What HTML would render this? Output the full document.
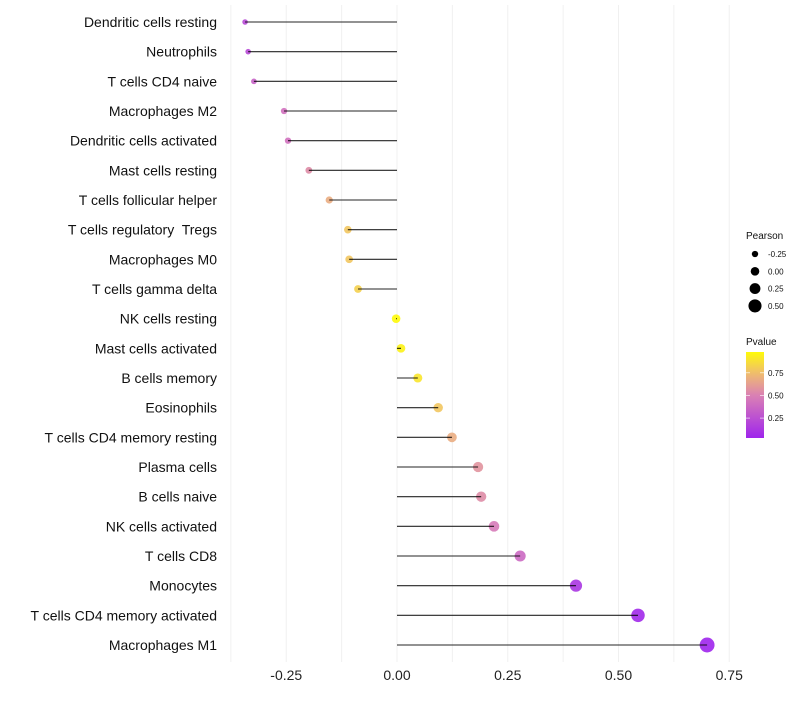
<!DOCTYPE html>
<html><head><meta charset="utf-8"><style>
body{margin:0;background:#fff;font-family:"Liberation Sans",sans-serif;}
svg text{font-family:"Liberation Sans",sans-serif;white-space:pre;}
</style></head><body>
<svg id="chart" width="800" height="700"></svg>
<script>
const categories=["Dendritic cells resting","Neutrophils","T cells CD4 naive","Macrophages M2","Dendritic cells activated","Mast cells resting","T cells follicular helper","T cells regulatory  Tregs","Macrophages M0","T cells gamma delta","NK cells resting","Mast cells activated","B cells memory","Eosinophils","T cells CD4 memory resting","Plasma cells","B cells naive","NK cells activated","T cells CD8","Monocytes","T cells CD4 memory activated","Macrophages M1"];
const pearson=[-0.343,-0.336,-0.323,-0.255,-0.246,-0.199,-0.153,-0.111,-0.108,-0.088,-0.002,0.009,0.047,0.093,0.124,0.183,0.19,0.219,0.278,0.404,0.544,0.70];
const pvalue=[0.22,0.22,0.35,0.42,0.42,0.55,0.68,0.78,0.78,0.82,0.98,0.95,0.90,0.78,0.68,0.58,0.55,0.47,0.38,0.12,0.05,0.03];
const xTicks=[-0.25,0,0.25,0.5,0.75];
const xTickLabels=["-0.25","0.00","0.25","0.50","0.75"];
const sizeLegend=[-0.25,0,0.25,0.5];
const sizeLegendLabels=["-0.25","0.00","0.25","0.50"];
const colorLegend=[0.25,0.5,0.75];
const colorLegendLabels=["0.25","0.50","0.75"];

const NS="http://www.w3.org/2000/svg";
const svg=document.getElementById('chart');
function mk(t,a,p){const e=document.createElementNS(NS,t);for(const k in a)e.setAttribute(k,a[k]);(p||svg).appendChild(e);return e;}
const X=v=>397+v*443;
const Y=i=>22+i*(623/21);
const R=v=>4.3+v*4.5;
const stops=[[0,[155,31,240]],[0.5,[218,128,180]],[0.75,[240,190,110]],[1,[255,255,0]]];
function col(p){for(let i=1;i<stops.length;i++){if(p<=stops[i][0]){const a=stops[i-1],b=stops[i],t=(p-a[0])/(b[0]-a[0]);const c=a[1].map((v,k)=>Math.round(v+(b[1][k]-v)*t));return `rgb(${c})`;}}return 'rgb(255,255,0)';}

const g=mk('g',{});


for(let v=-0.375;v<=0.8;v+=0.125){mk('line',{x1:X(v),x2:X(v),y1:5,y2:662,stroke:'#f0f0f0','stroke-width':1},g);}
xTicks.forEach((v,i)=>{const t=mk('text',{x:X(v),y:680,'text-anchor':'middle','font-size':14,fill:'#222'});t.textContent=xTickLabels[i];

});
categories.forEach((c,i)=>{
 const l=mk('text',{x:217,y:Y(i)+5,'text-anchor':'end','font-size':14,fill:'#111'});l.textContent=c;
 
 
 const d=mk('circle',{cx:X(pearson[i]),cy:Y(i),r:Math.max(1.5,R(pearson[i])),fill:col(pvalue[i]),opacity:0.9});
 
 
 const s=mk('line',{x1:X(0),x2:X(pearson[i]),y1:Y(i),y2:Y(i),stroke:'#000','stroke-width':1.1,opacity:0.85});
 
 
});
const lt=mk('text',{x:746,y:239,'font-size':10,fill:'#111'});lt.textContent='Pearson';


sizeLegend.forEach((v,i)=>{const cy=254+i*17.3;
 const c=mk('circle',{cx:755,cy:cy,r:R(v),fill:'#000'});
 
 
 const t=mk('text',{x:768,y:cy+3,'font-size':8,fill:'#111'});t.textContent=sizeLegendLabels[i];
 
 });
const ct=mk('text',{x:746,y:345,'font-size':10,fill:'#111'});ct.textContent='Pvalue';


const defs=mk('defs',{});const gr=mk('linearGradient',{id:'pg',x1:0,y1:1,x2:0,y2:0},defs);
for(let k=0;k<=10;k++){const p=0.03+k*0.095;mk('stop',{offset:k/10,'stop-color':col(p)},gr);}
const bar=mk('rect',{x:746,y:352,width:18,height:86,fill:'url(#pg)'});


const PY=p=>438-(p-0.03)/0.95*86;
colorLegend.forEach((p,i)=>{
 mk('line',{x1:746,x2:750,y1:PY(p),y2:PY(p),stroke:'#fff','stroke-width':0.6});
 mk('line',{x1:760,x2:764,y1:PY(p),y2:PY(p),stroke:'#fff','stroke-width':0.6});
 const t=mk('text',{x:768,y:PY(p)+3,'font-size':8,fill:'#111'});t.textContent=colorLegendLabels[i];
 
 });
</script>
</body></html>
